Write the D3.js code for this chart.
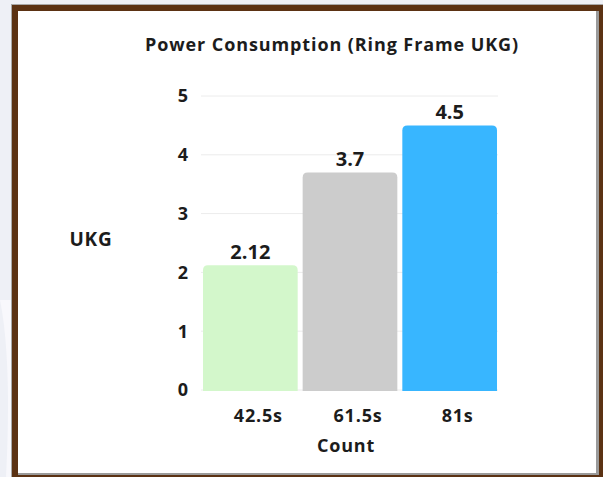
<!DOCTYPE html>
<html>
<head>
<meta charset="utf-8">
<script src="https://cdn.jsdelivr.net/npm/d3@7"></script>
<style>
  html, body { margin: 0; padding: 0; background: #eef0f6; }
  svg { display: block; }
</style>
</head>
<body>
<div id="chart"></div>
<script>
// data
var categories = ["42.5s", "61.5s", "81s"];
var values = [2.12, 3.7, 4.5];
var valueLabels = ["2.12", "3.7", "4.5"];
var barColors = ["#d3f7cb", "#cccccc", "#38b6ff"];
var yTicks = [0, 1, 2, 3, 4, 5];

var width = 603,
    height = 477;

var svg = d3.select("#chart")
  .append("svg")
  .attr("width", width)
  .attr("height", height);

// page background + faint curve on the left
svg.append("rect")
  .attr("width", width)
  .attr("height", height)
  .attr("fill", "#eef0f6");
svg.append("path")
  .attr("d", "M0,300 Q12,360 6,477 L12,477 L12,300 Z")
  .attr("fill", "#f8f8fc");

// brown frame
svg.append("rect")
  .attr("x", 11).attr("y", 4)
  .attr("width", 600).attr("height", 480)
  .attr("fill", "#a8a8a8");
svg.append("rect")
  .attr("x", 12).attr("y", 5)
  .attr("width", 600).attr("height", 480)
  .attr("fill", "#5b3213");
svg.append("rect")
  .attr("x", 18).attr("y", 11)
  .attr("width", 581).attr("height", 464)
  .attr("fill", "#9a9a9a");
svg.append("rect")
  .attr("x", 18).attr("y", 11)
  .attr("width", 578).attr("height", 462)
  .attr("fill", "#ffffff");

var x = d3.scaleBand()
  .domain(categories)
  .range([200, 500])
  .paddingInner(0.05)
  .paddingOuter(0.03);

var y = d3.scaleLinear()
  .domain([0, 5])
  .range([390, 96]);

var font = "'Open Sans', sans-serif";
var ink = "#1c1c1c";

// gridlines
svg.append("g")
  .selectAll("line")
  .data(yTicks)
  .enter()
  .append("line")
  .attr("x1", 201)
  .attr("x2", 498)
  .attr("y1", function(d) { return y(d); })
  .attr("y2", function(d) { return y(d); })
  .attr("stroke", "#ececec")
  .attr("stroke-width", 1);

// y tick labels
svg.append("g")
  .selectAll("text")
  .data(yTicks)
  .enter()
  .append("text")
  .attr("x", 188)
  .attr("y", function(d) { return y(d); })
  .attr("dy", "0.36em")
  .attr("text-anchor", "end")
  .style("font-family", font)
  .style("font-weight", "700")
  .style("font-size", "18px")
  .style("fill", ink)
  .text(function(d) { return d; });

// bars with rounded tops
var r = 5;
function barPath(d, i) {
  var x0 = x(categories[i]), w = x.bandwidth();
  var y0 = y(d), y1 = y(0) + 1;
  return "M" + x0 + "," + y1 +
    "L" + x0 + "," + (y0 + r) +
    "Q" + x0 + "," + y0 + " " + (x0 + r) + "," + y0 +
    "L" + (x0 + w - r) + "," + y0 +
    "Q" + (x0 + w) + "," + y0 + " " + (x0 + w) + "," + (y0 + r) +
    "L" + (x0 + w) + "," + y1 + "Z";
}

svg.append("g")
  .selectAll("path")
  .data(values)
  .enter()
  .append("path")
  .attr("d", barPath)
  .style("fill", function(d, i) { return barColors[i]; });

// value labels
svg.append("g")
  .selectAll("text")
  .data(values)
  .enter()
  .append("text")
  .attr("x", function(d, i) { return x(categories[i]) + x.bandwidth() / 2; })
  .attr("y", function(d) { return y(d) - 6; })
  .attr("text-anchor", "middle")
  .style("font-family", font)
  .style("font-weight", "700")
  .style("font-size", "20px")
  .style("fill", ink)
  .text(function(d, i) { return valueLabels[i]; });

// x labels (sit a little right of the bar centres, as in the original)
svg.append("g")
  .selectAll("text")
  .data(categories)
  .enter()
  .append("text")
  .attr("x", function(d) { return x(d) + x.bandwidth() / 2 + 8; })
  .attr("y", 422)
  .attr("text-anchor", "middle")
  .style("font-family", font)
  .style("font-weight", "700")
  .style("font-size", "18px")
  .style("letter-spacing", "0.8px")
  .style("fill", ink)
  .text(function(d) { return d; });

// axis titles
svg.append("text")
  .attr("x", 346)
  .attr("y", 452)
  .attr("text-anchor", "middle")
  .style("font-family", font)
  .style("font-weight", "700")
  .style("font-size", "18px")
  .style("letter-spacing", "0.8px")
  .style("fill", ink)
  .text("Count");

svg.append("text")
  .attr("x", 91)
  .attr("y", 246)
  .attr("text-anchor", "middle")
  .style("font-family", font)
  .style("font-weight", "700")
  .style("font-size", "19px")
  .style("letter-spacing", "0.8px")
  .style("fill", ink)
  .text("UKG");

// title
svg.append("text")
  .attr("x", 332)
  .attr("y", 51)
  .attr("text-anchor", "middle")
  .style("font-family", font)
  .style("font-weight", "700")
  .style("font-size", "18px")
  .style("letter-spacing", "0.9px")
  .style("fill", ink)
  .text("Power Consumption (Ring Frame UKG)");
</script>
</body>
</html>
